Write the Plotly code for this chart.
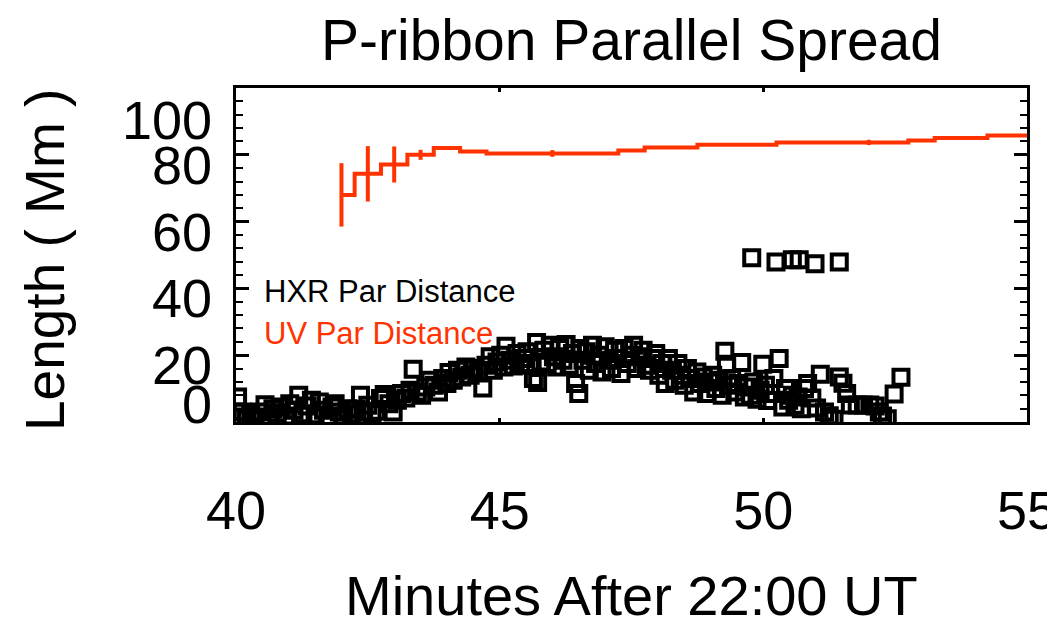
import plotly.graph_objects as go

# HXR parallel distance (open squares)
hxr_min = [
    40.03, 40.05, 40.12, 40.2, 40.28, 40.36, 40.45, 40.55, 40.62, 40.7, 40.78, 40.86, 40.94,
    41.02, 41.1, 41.19, 41.27, 41.35, 41.43, 41.5, 41.58, 41.66, 41.74, 41.82, 41.88, 41.96,
    42.04, 42.12, 42.2, 42.28, 42.36, 42.42, 42.5, 42.58, 42.66, 42.74, 42.81, 42.9, 42.98,
    43.06, 43.14, 43.22, 43.3, 43.36, 43.44, 43.52, 43.6, 43.68, 43.76, 43.84, 43.92,
    44.0, 44.04, 44.12, 44.2, 44.28, 44.36, 44.44, 44.52, 44.6, 44.68, 44.74, 44.82, 44.88, 44.95,
    45.02, 45.08, 45.12, 45.2, 45.26, 45.33, 45.4, 45.46, 45.52, 45.58, 45.64, 45.7, 45.72,
    45.78, 45.84, 45.9, 45.96, 46.02, 46.08, 46.14, 46.2, 46.26, 46.32, 46.38, 46.44, 46.5,
    46.52, 46.58, 46.64, 46.7, 46.76, 46.82, 46.88, 46.94, 47.0, 47.06, 47.12, 47.18, 47.24,
    47.3, 47.36, 47.42, 47.48, 47.54, 47.6, 47.66, 47.72, 47.78, 47.84, 47.9, 47.96,
    48.02, 48.08, 48.14, 48.2, 48.26, 48.32, 48.38, 48.44, 48.5, 48.56, 48.62, 48.68, 48.74,
    48.8, 48.86, 48.92, 48.98, 49.04, 49.1, 49.16, 49.22, 49.27, 49.3, 49.34, 49.4, 49.46,
    49.52, 49.59, 49.64, 49.7, 49.76, 49.82, 49.88, 49.94, 49.99, 50.04, 50.08, 50.14, 50.2,
    50.3, 50.37, 50.42, 50.48, 50.55, 50.6, 50.66, 50.72, 50.78, 50.84, 50.92, 51.01, 51.08,
    51.16, 51.25, 51.34, 51.44, 51.51, 51.58, 51.65, 51.78, 51.9, 52.02, 52.12, 52.2, 52.26,
    52.35, 52.48, 52.61,
    49.78, 50.24, 50.55, 50.68, 50.98, 51.44,
]
hxr_len = [
    7.5, 1.5, 3.0, 0.8, 2.0, 1.2, 3.0, 5.2, 1.5, 4.0, 2.8, 4.5, 1.8,
    5.5, 3.5, 8.0, 2.5, 4.8, 6.5, 2.2, 6.0, 3.5, 1.5, 4.5, 5.5, 3.0,
    1.8, 4.0, 2.5, 3.8, 8.0, 3.0, 5.0, 2.8, 3.2, 7.0, 8.2, 5.5, 3.0,
    6.5, 8.5, 7.2, 9.5, 15.8, 9.0, 8.0, 10.5, 12.5, 11.0, 9.0, 13.0,
    11.5, 14.8, 12.5, 15.5, 13.5, 16.5, 14.0, 16.0, 15.0, 10.2, 17.0, 19.5, 15.5, 18.0,
    20.0, 16.5, 22.7, 18.5, 16.8, 20.5, 17.5, 19.0, 21.0, 17.0, 13.0, 23.8, 11.8,
    18.0, 21.5, 17.5, 23.0, 19.5, 16.5, 22.0, 18.5, 23.2, 17.0, 20.5, 11.5, 8.5,
    22.0, 18.5, 21.0, 15.5, 23.0, 17.5, 20.0, 15.0, 22.5, 18.5, 16.0, 21.5, 19.0,
    14.5, 22.0, 17.5, 20.0, 23.0, 16.0, 19.5, 21.5, 17.0, 15.5, 19.0, 20.5,
    14.0, 17.5, 11.5, 19.0, 15.5, 12.5, 17.5, 14.0, 11.0, 16.0, 13.0, 9.0, 15.0,
    11.5, 13.5, 8.5, 12.0, 14.0, 10.0, 12.5, 8.0, 21.2, 17.3, 11.0, 13.0, 9.0,
    11.5, 17.8, 7.5, 10.5, 8.0, 12.0, 6.8, 9.5, 17.3, 11.0, 6.4, 8.5, 13.0,
    19.0, 4.5, 10.0, 6.5, 8.0, 5.0, 7.5, 4.0, 10.0, 11.5, 7.2, 4.2, 14.3,
    3.0, 1.9, 0.8, 13.5, 11.6, 8.5, 5.1, 5.1, 5.1, 5.1, 4.8, 3.0, 1.8,
    1.0, 8.4, 13.4,
    49.2, 47.9, 48.6, 48.6, 47.4, 47.9,
]

# UV parallel distance (histogram-style line with error bars)
uv_min = [42.0, 42.5, 43.0, 43.5, 44.0, 44.5, 45.0, 45.5, 46.0, 46.5, 47.0, 47.5, 48.0, 48.5,
          49.0, 49.5, 50.0, 50.5, 51.0, 51.5, 52.0, 52.5, 53.0, 53.5, 54.0, 54.5, 55.0]
uv_len = [68.0, 74.3, 77.1, 80.0, 82.0, 81.0, 80.4, 80.4, 80.4, 80.4, 80.4, 81.3, 82.2, 82.2,
          83.0, 83.0, 83.0, 83.7, 83.7, 83.7, 83.7, 83.7, 84.3, 85.0, 85.0, 85.8, 85.8]
uv_err = [9.5, 8.3, 5.4, 1.5, 0, 0, 0, 0, 1.0, 0, 0, 0, 0, 0,
          0, 0, 0, 0, 0, 0, 0.8, 0, 0, 0, 0, 0, 0]

y_ticks = [0, 20, 40, 60, 80, 100]
y_tick_text = ["0", "20", "40", "60", "80", "100"]
# where IDL actually put the y labels (data units)
y_label_pos = [5.4, 17.0, 37.1, 57.0, 77.0, 90.3]

red = "#ff3300"
font = "Liberation Sans, Arial, sans-serif"

fig = go.Figure()

fig.add_trace(go.Scatter(
    x=hxr_min, y=hxr_len, mode="markers",
    marker=dict(symbol="square-open", size=15, color="black", line=dict(width=4, color="black")),
    cliponaxis=True, showlegend=False,
))

fig.add_trace(go.Scatter(
    x=uv_min, y=uv_len, mode="lines",
    line=dict(color=red, width=4, shape="hvh"),
    error_y=dict(type="data", array=uv_err, visible=True, color=red, thickness=4, width=0),
    showlegend=False,
))

# page body adds an 8px offset, so the margins are shifted to compensate
fig.update_layout(
    width=1055, height=621,
    margin=dict(l=228, r=36, t=80, b=207, autoexpand=False),
    paper_bgcolor="white", plot_bgcolor="white",
    font=dict(family=font, size=54, color="black"),
    title=dict(text="P-ribbon Parallel Spread", xref="paper", x=0.5, xanchor="center",
               y=0.948, yanchor="middle", font=dict(size=57)),
)

fig.update_xaxes(
    range=[40, 55], tickvals=[40, 45, 50, 55], ticks="inside", ticklen=4, tickwidth=3,
    tickcolor="black", showline=True, linecolor="black", linewidth=3, mirror="allticks",
    showgrid=False, zeroline=False, tickfont=dict(size=54), ticklabelstandoff=39,
    ticklabeloverflow="allow", automargin=False,
)
fig.update_yaxes(
    range=[0, 100], tickvals=y_ticks, ticks="inside", ticklen=13, tickwidth=3,
    tickcolor="black", showline=True, linecolor="black", linewidth=3, mirror="allticks",
    showgrid=False, zeroline=False, showticklabels=False, automargin=False,
    minor=dict(dtick=4, ticks="inside", ticklen=7, tickwidth=2, tickcolor="black", showgrid=False),
)

for pos, txt in zip(y_label_pos, y_tick_text):
    fig.add_annotation(x=0, xref="paper", y=pos, yref="y", text=txt, showarrow=False,
                       xanchor="right", yanchor="middle", xshift=-22, font=dict(size=54))

fig.add_annotation(x=-0.2415, xref="paper", y=0.485, yref="paper", text="Length ( Mm )",
                   textangle=-90, showarrow=False, xanchor="center", yanchor="middle",
                   font=dict(size=55))
fig.add_annotation(x=0.5, xref="paper", y=-0.518, yref="paper", text="Minutes After 22:00 UT",
                   showarrow=False, xanchor="center", yanchor="middle", font=dict(size=56))

fig.add_annotation(x=0.033, xref="paper", y=0.392, yref="paper", text="HXR Par Distance",
                   showarrow=False, xanchor="left", yanchor="middle",
                   font=dict(size=31, color="black"))
fig.add_annotation(x=0.033, xref="paper", y=0.266, yref="paper", text="UV Par Distance",
                   showarrow=False, xanchor="left", yanchor="middle",
                   font=dict(size=31, color=red))

fig.write_html("out.html")
